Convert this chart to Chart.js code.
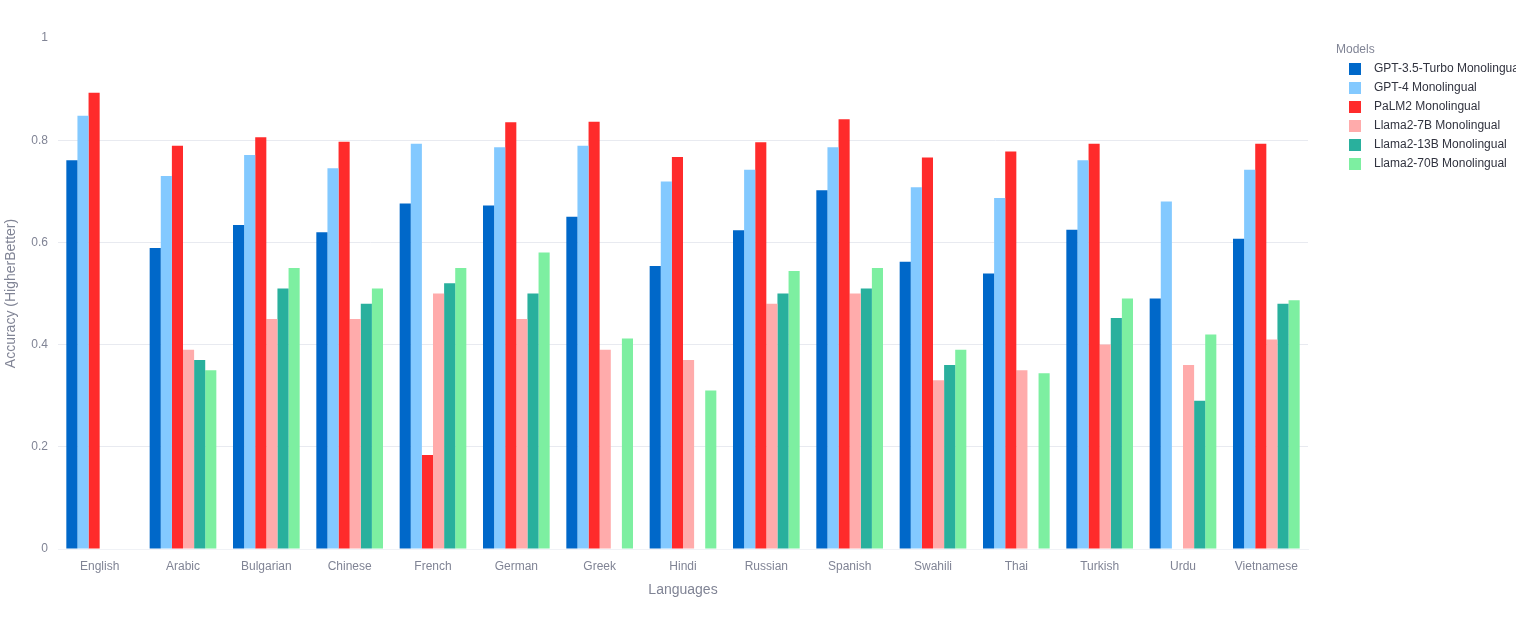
<!DOCTYPE html>
<html>
<head>
<meta charset="utf-8">
<script src="https://cdn.jsdelivr.net/npm/chart.js@4/dist/chart.umd.min.js"></script>
<style>
  html, body { margin: 0; padding: 0; background: #fff; }
  #wrap { width: 1516px; height: 631px; }
</style>
</head>
<body>
<div id="wrap"><canvas id="accChart"></canvas></div>
<script>
// Datos
const languages = ['English', 'Arabic', 'Bulgarian', 'Chinese', 'French', 'German', 'Greek', 'Hindi',
  'Russian', 'Spanish', 'Swahili', 'Thai', 'Turkish', 'Urdu', 'Vietnamese'];
const modelNames = ['GPT-3.5-Turbo Monolingual', 'GPT-4 Monolingual', 'PaLM2 Monolingual',
  'Llama2-7B Monolingual', 'Llama2-13B Monolingual', 'Llama2-70B Monolingual'];
const modelColors = ['#0068c9', '#83c9ff', '#ff2b2b', '#ffabab', '#29b09d', '#7defa1'];

const gpt35 = [0.761, 0.589, 0.634, 0.620, 0.676, 0.672, 0.650, 0.554, 0.624, 0.702, 0.562, 0.539, 0.625, 0.490, 0.607];
const gpt4 = [0.848, 0.730, 0.771, 0.745, 0.793, 0.786, 0.789, 0.719, 0.742, 0.786, 0.708, 0.687, 0.761, 0.680, 0.742];
const palm2 = [0.893, 0.789, 0.806, 0.797, 0.184, 0.835, 0.836, 0.767, 0.796, 0.841, 0.766, 0.778, 0.793, null, 0.793];
const llama7b = [null, 0.39, 0.45, 0.45, 0.50, 0.45, 0.39, 0.37, 0.48, 0.50, 0.33, 0.35, 0.40, 0.36, 0.41];
const llama13b = [null, 0.37, 0.51, 0.48, 0.52, 0.50, null, null, 0.50, 0.51, 0.36, null, 0.452, 0.29, 0.48];
const llama70b = [null, 0.35, 0.55, 0.51, 0.55, 0.58, 0.412, 0.31, 0.544, 0.55, 0.39, 0.344, 0.49, 0.42, 0.487];
const yTicks = [0, 0.2, 0.4, 0.6, 0.8, 1];

const seriesData = [gpt35, gpt4, palm2, llama7b, llama13b, llama70b];
const FONT = '"Liberation Sans", Arial, sans-serif';

// Leyenda dibujada a mano (estilo plotly)
const sideLegend = {
  id: 'sideLegend',
  afterDraw(chart) {
    const ctx = chart.ctx;
    ctx.save();
    ctx.font = '12px ' + FONT;
    ctx.textBaseline = 'middle';
    ctx.fillStyle = '#808495';
    ctx.fillText('Models', 1336, 50);
    chart.data.datasets.forEach((ds, i) => {
      const y = 69 + i * 19;
      ctx.fillStyle = ds.backgroundColor;
      ctx.fillRect(1349, y - 6, 12, 12);
      ctx.fillStyle = '#31333f';
      ctx.fillText(ds.label, 1374, y);
    });
    ctx.restore();
  }
};

const ctx = document.getElementById('accChart').getContext('2d');
new Chart(ctx, {
  type: 'bar',
  data: {
    labels: languages,
    datasets: seriesData.map((d, i) => ({
      label: modelNames[i],
      data: d,
      backgroundColor: modelColors[i],
      borderWidth: 0,
      categoryPercentage: 0.8,
      barPercentage: 1.0
    }))
  },
  options: {
    responsive: true,
    maintainAspectRatio: false,
    animation: false,
    layout: { padding: { left: 0, right: 208, top: 38, bottom: 28 } },
    plugins: {
      legend: { display: false },
      tooltip: { enabled: false }
    },
    scales: {
      x: {
        grid: { display: false },
        border: { color: '#f0f2f6' },
        ticks: { color: '#808495', font: { family: FONT, size: 12 }, padding: 2, maxRotation: 0 },
        title: { display: true, text: 'Languages', color: '#808495', font: { family: FONT, size: 14 }, padding: { top: 2 } },
        afterFit(scale) { scale.height = 54; }
      },
      y: {
        min: 0,
        max: 1,
        afterBuildTicks(scale) { scale.ticks = yTicks.map(v => ({ value: v })); },
        grid: {
          color: c => (c.tick && c.tick.value === 1 ? 'rgba(0,0,0,0)' : '#e8eaf0'),
          drawTicks: false
        },
        border: { display: false },
        ticks: {
          color: '#808495',
          font: { family: FONT, size: 12 },
          padding: 10,
          callback: v => String(v)
        },
        title: { display: true, text: 'Accuracy (HigherBetter)', color: '#808495', font: { family: FONT, size: 14 }, padding: { top: 3, bottom: 4 } },
        afterFit(scale) { scale.width = 58; }
      }
    }
  },
  plugins: [sideLegend]
});
</script>
</body>
</html>
